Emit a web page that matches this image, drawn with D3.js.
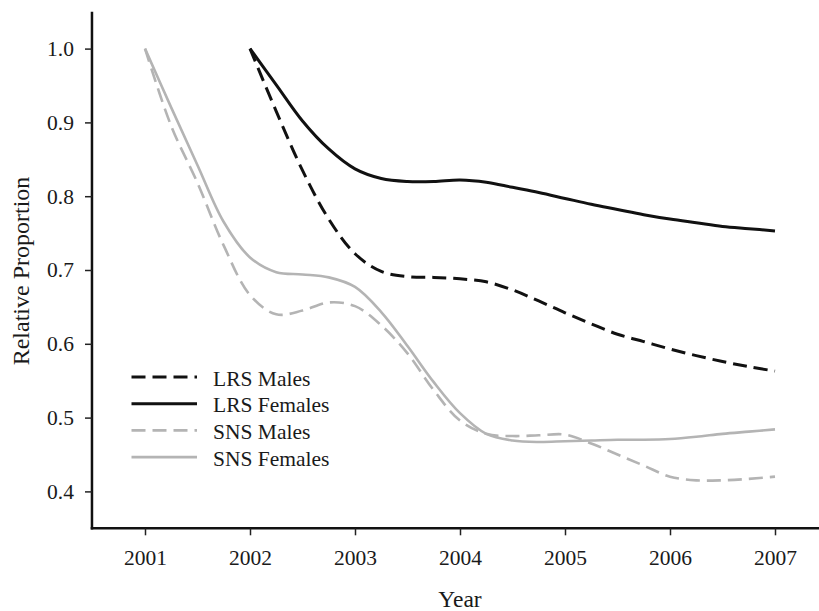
<!DOCTYPE html>
<html>
<head>
<meta charset="utf-8">
<script src="https://cdn.jsdelivr.net/npm/d3@7"></script>
<style>
  html, body { margin: 0; padding: 0; background: #fff; }
  svg text { font-family: "Liberation Serif", "Times New Roman", serif; fill: #1a1a1a; }
</style>
</head>
<body>
<svg id="chart" width="819" height="611"></svg>
<script>
// ---- data ----
const years = [2001.00, 2001.25, 2001.50, 2001.75, 2002.00, 2002.25, 2002.50, 2002.75,
               2003.00, 2003.25, 2003.50, 2003.75, 2004.00, 2004.25, 2004.50, 2004.75,
               2005.00, 2005.25, 2005.50, 2005.75, 2006.00, 2006.25, 2006.50, 2006.75, 2007.00];

// LRS series start in 2002 (null before)
const lrsMales = [null, null, null, null, 1.000, 0.915, 0.835, 0.769,
                  0.722, 0.698, 0.691, 0.690, 0.688, 0.684, 0.673, 0.658,
                  0.642, 0.627, 0.613, 0.603, 0.593, 0.584, 0.576, 0.569, 0.563];
const lrsFemales = [null, null, null, null, 1.000, 0.951, 0.902, 0.864,
                    0.837, 0.824, 0.820, 0.820, 0.822, 0.819, 0.812, 0.805,
                    0.797, 0.789, 0.782, 0.775, 0.769, 0.764, 0.759, 0.756, 0.753];
const snsMales = [1.000, 0.895, 0.818, 0.733, 0.666, 0.640, 0.645, 0.656,
                  0.651, 0.625, 0.587, 0.537, 0.496, 0.478, 0.475, 0.476,
                  0.477, 0.465, 0.450, 0.435, 0.420, 0.415, 0.415, 0.417, 0.420];
const snsFemales = [1.000, 0.920, 0.842, 0.765, 0.717, 0.697, 0.694, 0.690,
                    0.677, 0.643, 0.597, 0.548, 0.506, 0.478, 0.469, 0.467,
                    0.468, 0.469, 0.470, 0.470, 0.471, 0.474, 0.478, 0.481, 0.484];

const seriesNames = ["LRS Males", "LRS Females", "SNS Males", "SNS Females"];
const xTicks = [2001, 2002, 2003, 2004, 2005, 2006, 2007];
const yTicks = [0.4, 0.5, 0.6, 0.7, 0.8, 0.9, 1.0];

// ---- styles ----
const styles = {
  "LRS Males":   { color: "#111111", dash: "14,7", width: 3 },
  "LRS Females": { color: "#111111", dash: null,   width: 3 },
  "SNS Males":   { color: "#b4b4b4", dash: "14,7", width: 2.6 },
  "SNS Females": { color: "#b4b4b4", dash: null,   width: 2.6 }
};
const seriesData = {
  "LRS Males": lrsMales, "LRS Females": lrsFemales,
  "SNS Males": snsMales, "SNS Females": snsFemales
};

const svg = d3.select("#chart");

const x = d3.scaleLinear().domain([2001, 2007]).range([145, 775]);
const y = d3.scaleLinear().domain([0.35, 1.05]).range([528.3, 11.7]);

const axisLeftX = x(2000.495);
const axisBottomY = y(0.35);

// axes lines
svg.append("line")
  .attr("x1", axisLeftX).attr("x2", axisLeftX)
  .attr("y1", y(1.05)).attr("y2", axisBottomY + 1.25)
  .attr("stroke", "#111").attr("stroke-width", 2.5);
svg.append("line")
  .attr("x1", axisLeftX - 1.25).attr("x2", 819)
  .attr("y1", axisBottomY).attr("y2", axisBottomY)
  .attr("stroke", "#111").attr("stroke-width", 2.5);

// y axis ticks
const yAxis = d3.axisLeft(y).tickValues(yTicks).tickFormat(d3.format(".1f"))
  .tickSize(7).tickPadding(11);
const gy = svg.append("g").attr("transform", `translate(${axisLeftX},0)`).call(yAxis);
gy.select(".domain").remove();
gy.selectAll(".tick line").attr("stroke", "#222").attr("stroke-width", 1.5);
gy.selectAll(".tick text").attr("font-size", 21.5).attr("fill", "#1a1a1a");

// x axis ticks
const xAxis = d3.axisBottom(x).tickValues(xTicks).tickFormat(d3.format("d"))
  .tickSize(7).tickPadding(14);
const gx = svg.append("g").attr("transform", `translate(0,${axisBottomY})`).call(xAxis);
gx.select(".domain").remove();
gx.selectAll(".tick line").attr("stroke", "#222").attr("stroke-width", 1.5);
gx.selectAll(".tick text").attr("font-size", 21.5).attr("fill", "#1a1a1a");

// axis titles
svg.append("text")
  .attr("transform", "translate(29,271) rotate(-90)")
  .attr("text-anchor", "middle")
  .attr("font-size", 24)
  .text("Relative Proportion");
svg.append("text")
  .attr("x", 460).attr("y", 607)
  .attr("text-anchor", "middle")
  .attr("font-size", 23.5)
  .text("Year");

// series lines
const line = d3.line()
  .defined(d => d.v !== null)
  .x(d => x(d.yr)).y(d => y(d.v))
  .curve(d3.curveCatmullRom.alpha(0.5));

// draw gray first, then black
["SNS Females", "SNS Males", "LRS Females", "LRS Males"].forEach(name => {
  const vals = seriesData[name];
  const pts = years.map((yr, i) => ({ yr, v: vals[i] }));
  const st = styles[name];
  svg.append("path")
    .datum(pts)
    .attr("d", line)
    .attr("fill", "none")
    .attr("stroke", st.color)
    .attr("stroke-width", st.width)
    .attr("stroke-dasharray", st.dash)
    .attr("stroke-linejoin", "round");
});

// legend
const legend = svg.append("g");
seriesNames.forEach((name, i) => {
  const ly = 377 + i * 26.7;
  const st = styles[name];
  legend.append("line")
    .attr("x1", 131.5).attr("x2", 197)
    .attr("y1", ly).attr("y2", ly)
    .attr("stroke", st.color)
    .attr("stroke-width", st.width)
    .attr("stroke-dasharray", st.dash);
  legend.append("text")
    .attr("x", 213).attr("y", ly + 8.5)
    .attr("font-size", 21.5)
    .text(name);
});
</script>
</body>
</html>
